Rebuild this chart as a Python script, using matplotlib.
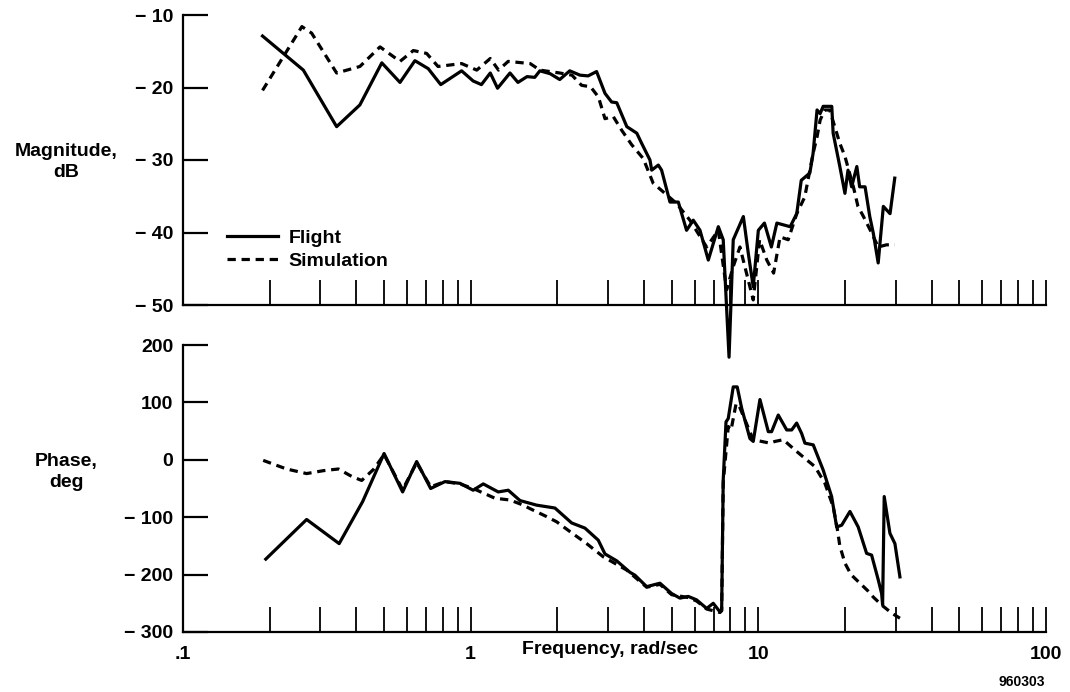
import matplotlib
matplotlib.use("Agg")
import matplotlib.pyplot as plt
from matplotlib.ticker import FixedLocator, FixedFormatter, NullFormatter

plt.rcParams['font.family'] = ['Liberation Sans', 'DejaVu Sans']
plt.rcParams['font.weight'] = 'bold'

# ---------------- data ----------------
mag_flight_freq = [0.189, 0.262, 0.342, 0.412, 0.491, 0.568, 0.640, 0.712, 0.787, 0.930,
                   1.02, 1.09, 1.17, 1.24, 1.37, 1.46, 1.57, 1.67, 1.74, 1.89,
                   2.04, 2.21, 2.40, 2.56, 2.74, 2.93, 3.09, 3.22, 3.49, 3.78,
                   3.93, 4.20, 4.26, 4.49, 4.61, 4.93, 5.27, 5.63, 5.94, 6.27,
                   6.70, 7.26, 7.55, 7.91, 8.18, 8.87, 9.23, 9.60, 10.0, 10.5,
                   11.1, 11.6, 12.9, 13.6, 14.1, 15.1, 15.5, 16.0, 16.4, 16.8,
                   18.0, 18.2, 19.2, 20.0, 20.5, 21.1, 22.0, 22.5, 23.5, 24.4,
                   25.1, 26.1, 27.2, 28.7, 29.8]
mag_flight_db = [-12.9, -17.6, -25.4, -22.4, -16.6, -19.3, -16.3, -17.4, -19.6, -17.7,
                 -19.1, -19.6, -18.0, -20.1, -18.0, -19.3, -18.5, -18.6, -17.7, -18.1,
                 -18.9, -17.7, -18.3, -18.4, -17.8, -20.8, -22.0, -22.1, -25.4, -26.3,
                 -27.7, -30.0, -31.4, -30.7, -31.4, -35.8, -35.8, -39.7, -38.3, -39.7,
                 -43.8, -39.2, -41.0, -57.2, -41.0, -37.8, -42.9, -47.5, -39.7, -38.7,
                 -42.0, -38.7, -39.2, -37.4, -32.8, -31.8, -29.1, -23.1, -23.6, -22.6,
                 -22.6, -26.3, -30.9, -34.6, -31.4, -33.7, -30.9, -33.7, -33.7, -37.8,
                 -40.1, -44.2, -36.4, -37.4, -32.5]

mag_sim_freq = [0.189, 0.259, 0.280, 0.342, 0.412, 0.484, 0.568, 0.632, 0.703, 0.770,
                0.930, 1.05, 1.17, 1.25, 1.35, 1.61, 1.74, 2.04, 2.25, 2.43,
                2.61, 2.78, 2.93, 3.13, 3.35, 3.63, 3.98, 4.31, 5.20, 5.78,
                6.61, 7.26, 7.76, 8.18, 8.63, 9.60, 10.1, 10.7, 11.3, 11.9,
                12.7, 13.6, 14.5, 15.5, 16.0, 16.4, 17.0, 17.7, 19.2, 20.0,
                21.4, 22.2, 23.2, 24.8, 26.1, 27.9, 29.8]
mag_sim_db = [-20.4, -11.6, -12.5, -18.0, -17.1, -14.4, -16.4, -14.9, -15.3, -17.1,
              -16.7, -17.6, -16.0, -17.6, -16.4, -16.7, -17.6, -18.0, -18.3, -19.7,
              -19.9, -21.3, -24.3, -24.0, -25.9, -27.9, -29.8, -33.2, -36.0, -38.3,
              -42.0, -39.7, -47.9, -44.7, -42.0, -49.3, -41.0, -43.8, -45.6, -40.6,
              -41.0, -37.4, -35.1, -29.1, -26.8, -24.5, -23.1, -23.1, -27.7, -29.5,
              -33.7, -36.4, -37.8, -40.1, -42.0, -41.7, -41.7]

ph_flight_freq = [0.194, 0.269, 0.349, 0.421, 0.500, 0.580, 0.649, 0.726, 0.814, 0.918,
                  1.02, 1.106, 1.247, 1.351, 1.484, 1.695, 1.963, 2.244, 2.496, 2.777,
                  2.930, 3.218, 3.579, 3.724, 4.091, 4.550, 4.996, 5.34, 5.706, 6.10,
                  6.613, 6.97, 7.355, 7.456, 7.55, 7.72, 7.86, 8.18, 8.445, 8.75,
                  9.35, 9.60, 10.13, 10.83, 11.12, 11.73, 12.55, 13.06, 13.59, 14.14,
                  14.52, 15.52, 16.81, 17.98, 18.72, 19.48, 20.82, 22.24, 23.79, 24.76,
                  26.11, 26.83, 27.04, 27.39, 28.67, 29.84, 31.06]
ph_flight_deg = [-173, -104, -146, -73, 11, -56, -3, -50, -38, -41,
                 -53, -42, -56, -53, -71, -79, -84, -110, -119, -140,
                 -164, -176, -196, -201, -221, -215, -233, -241, -238, -244,
                 -259, -250, -265, -262, -35, 66, 72, 127, 127, 90,
                 37, 32, 105, 49, 49, 78, 52, 52, 64, 46,
                 29, 26, -18, -64, -117, -114, -90, -117, -163, -166,
                 -209, -233, -253, -64, -128, -146, -204]

ph_sim_freq = [0.190, 0.229, 0.269, 0.307, 0.347, 0.386, 0.418, 0.459, 0.500, 0.580,
               0.649, 0.726, 0.814, 0.918, 1.02, 1.215, 1.369, 1.524, 1.607, 1.837,
               1.99, 2.213, 2.531, 2.89, 3.484, 4.091, 4.55, 4.996, 5.706, 6.10,
               6.613, 7.355, 7.456, 7.55, 7.86, 8.04, 8.37, 8.59, 9.60, 10.97,
               11.42, 12.21, 13.41, 14.72, 15.74, 17.04, 18.21, 18.81, 19.2, 20.0,
               21.0, 22.55, 24.0, 25.08, 26.83, 29.07, 31.06]
ph_sim_deg = [-1, -16, -24, -19, -16, -29, -36, -17, 9, -52,
              -5, -47, -38, -42, -50, -67, -70, -79, -85, -99,
              -108, -125, -146, -169, -192, -222, -217, -235, -240, -246,
              -260, -266, -263, -40, 58, 52, 98, 93, 35, 29,
              32, 35, 17, 0, -12, -41, -82, -120, -150, -180,
              -200, -215, -228, -239, -253, -267, -276]

mag_ticks = [-10, -20, -30, -40, -50]
phase_ticks = [200, 100, 0, -100, -200, -300]
freq_major = [0.1, 1, 10, 100]
freq_major_labels = [".1", "1", "10", "100"]
freq_minor = [m * d for d in (0.1, 1, 10) for m in range(2, 10)]


def fmt(v):
    return ("\u2212 %d" % abs(v)) if v < 0 else "%d" % v


W, H = 1070, 692
fig = plt.figure(figsize=(W / 100, H / 100), dpi=100)
ax1 = fig.add_axes([183 / W, 1 - 305 / H, 863 / W, 290 / H])
ax2 = fig.add_axes([183 / W, 1 - 632 / H, 863 / W, 287 / H])

FS = 14
for ax in (ax1, ax2):
    ax.set_xscale('log')
    ax.set_xlim(0.1, 100)
    for s in ('top', 'right'):
        ax.spines[s].set_visible(False)
    for s in ('left', 'bottom'):
        ax.spines[s].set_linewidth(1.6)
    ax.xaxis.set_major_locator(FixedLocator(freq_major))
    ax.xaxis.set_minor_locator(FixedLocator(freq_minor))
    ax.xaxis.set_minor_formatter(NullFormatter())
    ax.tick_params(axis='x', which='both', direction='in', length=18, width=1.3,
                   labelsize=FS, pad=10)
    ax.tick_params(axis='y', which='both', direction='in', length=18, width=1.6,
                   labelsize=FS, pad=7)
    ax.patch.set_visible(False)

ax1.xaxis.set_major_formatter(NullFormatter())
ax2.xaxis.set_major_formatter(FixedFormatter(freq_major_labels))

ax1.set_ylim(-50, -10)
ax1.set_yticks(mag_ticks)
ax1.set_yticklabels([fmt(v) for v in mag_ticks])
ax2.set_ylim(-300, 200)
ax2.set_yticks(phase_ticks)
ax2.set_yticklabels([fmt(v) for v in phase_ticks])

for ax in (ax1, ax2):
    for lab in ax.get_xticklabels() + ax.get_yticklabels():
        lab.set_fontweight('bold')

lw = 2.3
ax1.plot(mag_flight_freq, mag_flight_db, color='black', lw=lw, label='Flight',
         clip_on=False, zorder=3)
ax1.plot(mag_sim_freq, mag_sim_db, color='black', lw=lw, dashes=(2.6, 1.8),
         label='Simulation', clip_on=False, zorder=3)
ax2.plot(ph_flight_freq, ph_flight_deg, color='black', lw=lw, clip_on=False, zorder=3)
ax2.plot(ph_sim_freq, ph_sim_deg, color='black', lw=lw, dashes=(2.6, 1.8),
         clip_on=False, zorder=3)

leg = ax1.legend(loc='upper left', bbox_to_anchor=((227 - 183) / 863, (305 - 229) / 290),
                 frameon=False, borderpad=0, borderaxespad=0, handlelength=2.6,
                 handletextpad=0.55, labelspacing=0.3,
                 prop={'size': FS, 'weight': 'bold'})

fig.text(66 / W, 1 - 162 / H, "Magnitude,\ndB", ha='center', va='center',
         fontsize=FS, fontweight='bold', linespacing=1.35)
fig.text(66 / W, 1 - 472 / H, "Phase,\ndeg", ha='center', va='center',
         fontsize=FS, fontweight='bold', linespacing=1.35)
fig.text(610 / W, 1 - 649 / H, "Frequency, rad/sec", ha='center', va='center',
         fontsize=FS, fontweight='bold')
fig.text(1022 / W, 1 - 682 / H, "960303", ha='center', va='center',
         fontsize=10, fontweight='bold')

fig.savefig("out.png", dpi=100)
